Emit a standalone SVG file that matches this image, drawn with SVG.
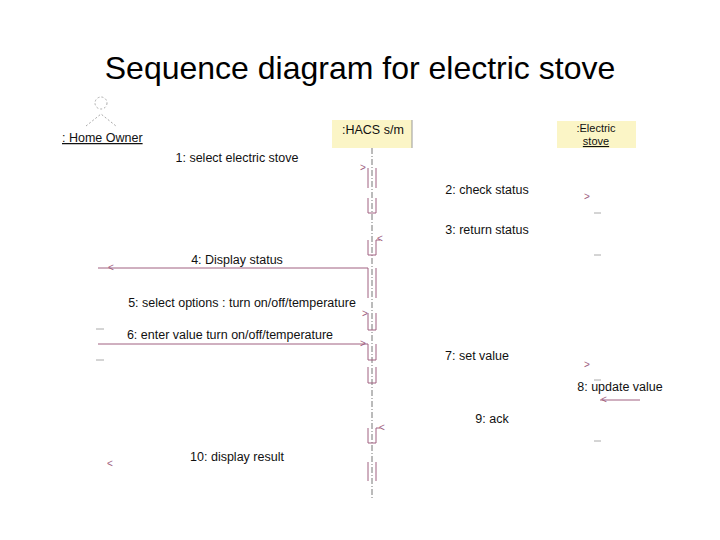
<svg xmlns="http://www.w3.org/2000/svg" width="720" height="540" viewBox="0 0 720 540">
<style>
.t{font-family:"Liberation Sans",Arial,sans-serif;font-size:12.5px;fill:#111}
.s{font-family:"Liberation Sans",Arial,sans-serif;font-size:11px;fill:#111}
.h{font-family:"Liberation Sans",Arial,sans-serif;font-size:32px;fill:#000}
.msg{stroke:#a06080;stroke-width:1;fill:none}
.act{stroke:#a06080;stroke-width:1;fill:none}
.life{stroke:#777;stroke-width:1;stroke-dasharray:6,2,1,2}
.box{fill:#fbf5c6}
.faint{stroke:#aaa;stroke-width:1;fill:none}
.hd{font-family:"Liberation Sans",Arial,sans-serif;font-size:10px;fill:#a06080}
</style>
<rect width="720" height="540" fill="#fff"/>
<text class="h" x="360" y="79" text-anchor="middle">Sequence diagram for electric stove</text>
<g id="homeowner">
<circle cx="101" cy="103" r="6" class="faint" stroke-dasharray="2,2"/>
<path d="M86 126 L101 114 L116 126" class="faint" stroke-dasharray="2,2"/>
<text class="t" x="62" y="142" text-decoration="underline">: Home Owner</text>
</g>
<g id="hacs">
<rect class="box" x="332" y="120" width="80" height="28"/>
<line x1="412" y1="120" x2="412" y2="148" stroke="#999"/>
<text class="t" x="342" y="134">:HACS s/m</text>
<line class="life" x1="372" y1="148" x2="372" y2="500"/>
</g>
<g id="stove">
<rect class="box" x="557" y="121" width="79" height="27"/>
<text class="s" x="596" y="132" text-anchor="middle">:Electric</text>
<text class="s" x="596" y="145" text-anchor="middle" text-decoration="underline">stove</text>
</g>
<g id="activations" class="act">
<path d="M368 168 V188 M376 168 V188"/>
<path d="M368 198 V213 H376 V198"/>
<path d="M368 240 V255 H376 V240 H380"/>
<path d="M368 268 V298 M376 268 V298"/>
<path d="M368 313 V330 H376 V313"/>
<path d="M368 344 V360 H376 V344"/>
<path d="M368 367 V383 H376 V367"/>
<path d="M368 428 V443 H376 V428 H380"/>
<path d="M368 462 V481 M376 462 V481"/>
</g>
<g id="connectors">
<line class="msg" x1="98" y1="268" x2="368" y2="268"/>
<line class="msg" x1="98" y1="344" x2="368" y2="344"/>
<line class="msg" x1="600" y1="400" x2="640" y2="400"/>
<text class="hd" x="360" y="171">&gt;</text>
<text class="hd" x="584" y="200">&gt;</text>
<text class="hd" x="377" y="242">&lt;</text>
<text class="hd" x="108" y="271">&lt;</text>
<text class="hd" x="362" y="317">&gt;</text>
<text class="hd" x="360" y="347">&gt;</text>
<text class="hd" x="584" y="368">&gt;</text>
<text class="hd" x="601" y="403">&lt;</text>
<text class="hd" x="379" y="431">&lt;</text>
<text class="hd" x="107" y="467">&lt;</text>
<g class="faint">
<line x1="594" y1="213" x2="601" y2="213"/>
<line x1="594" y1="255" x2="601" y2="255"/>
<line x1="96" y1="329" x2="104" y2="329"/>
<line x1="96" y1="360" x2="104" y2="360"/>
<line x1="594" y1="380" x2="601" y2="380"/>
<line x1="594" y1="441" x2="601" y2="441"/>
</g>
</g>
<g id="labels">
<text class="t" x="237" y="162" text-anchor="middle">1: select electric stove</text>
<text class="t" x="487" y="194" text-anchor="middle">2: check status</text>
<text class="t" x="487" y="234" text-anchor="middle">3: return status</text>
<text class="t" x="237" y="264" text-anchor="middle">4: Display status</text>
<text class="t" x="242" y="307" text-anchor="middle">5: select options : turn on/off/temperature</text>
<text class="t" x="230" y="339" text-anchor="middle">6: enter value turn on/off/temperature</text>
<text class="t" x="477" y="360" text-anchor="middle">7: set value</text>
<text class="t" x="620" y="391" text-anchor="middle">8: update value</text>
<text class="t" x="492" y="423" text-anchor="middle">9: ack</text>
<text class="t" x="237" y="461" text-anchor="middle">10: display result</text>
</g>
</svg>
